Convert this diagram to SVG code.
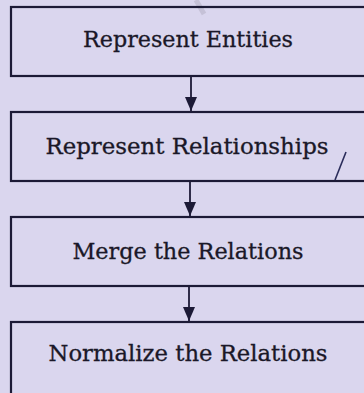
<svg xmlns="http://www.w3.org/2000/svg" width="364" height="393" viewBox="0 0 364 393">
<defs>
<style>
.box{fill:none;stroke:#1c1a36;stroke-width:2.2}
.lbl{font-family:"DejaVu Serif","Liberation Serif",serif;font-size:22px;fill:#1a1828;text-anchor:middle;stroke:#1a1828;stroke-width:0.3}
.con{stroke:#1c1a36;stroke-width:1.8;fill:none}
</style>
<marker id="ah" viewBox="0 0 14 12" refX="14" refY="6" markerWidth="14" markerHeight="12" markerUnits="userSpaceOnUse" orient="auto">
<path d="M0,0 L14,6 L0,12 Z" fill="#1c1a36"/>
</marker>
</defs>
<rect width="364" height="393" fill="#dad6ee"/>
<path d="M196,0 L204,14" stroke="#b8b4c8" stroke-width="5" opacity="0.6"/>
<g id="n1"><rect class="box" x="11" y="7" width="356" height="69"/><text class="lbl" x="188" y="47" textLength="210" lengthAdjust="spacingAndGlyphs">Represent Entities</text></g>
<g id="n2"><rect class="box" x="11" y="112" width="356" height="69"/><text class="lbl" x="187" y="154" textLength="283" lengthAdjust="spacingAndGlyphs">Represent Relationships</text></g>
<g id="n3"><rect class="box" x="11" y="217" width="356" height="69"/><text class="lbl" x="188" y="259" textLength="231" lengthAdjust="spacingAndGlyphs">Merge the Relations</text></g>
<g id="n4"><rect class="box" x="11" y="322" width="356" height="80"/><text class="lbl" x="188" y="361" textLength="279" lengthAdjust="spacingAndGlyphs">Normalize the Relations</text></g>
<g id="connectors">
<line class="con" x1="191" y1="77" x2="191" y2="111" marker-end="url(#ah)"/>
<line class="con" x1="190" y1="182" x2="190" y2="216" marker-end="url(#ah)"/>
<line class="con" x1="189" y1="287" x2="189" y2="321" marker-end="url(#ah)"/>
</g>
<path d="M346,152 L335,180" stroke="#2a2c5a" stroke-width="1.6"/>
</svg>
